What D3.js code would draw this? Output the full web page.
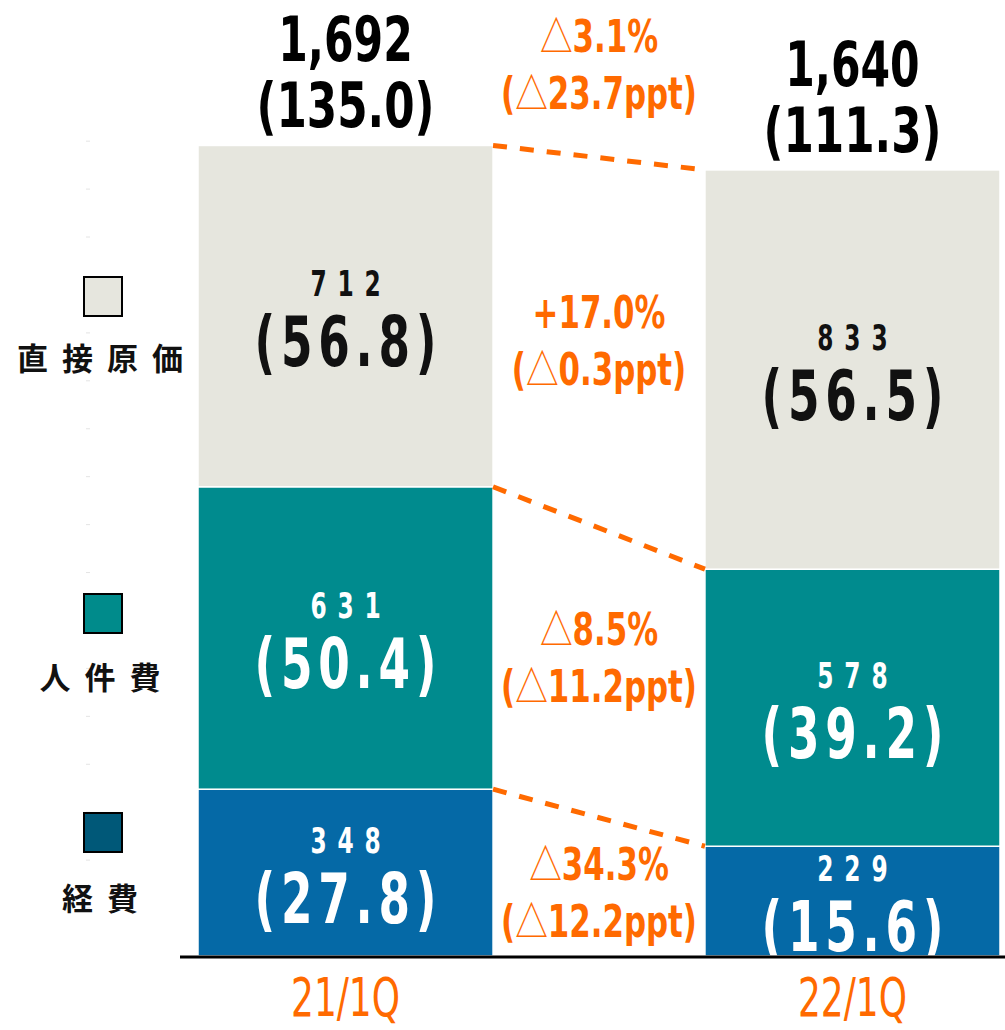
<!DOCTYPE html>
<html><head><meta charset="utf-8">
<script src="https://cdn.jsdelivr.net/npm/d3@7"></script>
<style>
html,body{margin:0;padding:0;background:#fff;}
svg{display:block;}
.num{font-family:"DejaVu Sans Condensed","Liberation Sans",sans-serif;font-weight:bold;}
.tri{font-family:"Noto Sans CJK JP",sans-serif;font-weight:normal;}
.jp{font-family:"Noto Sans CJK JP",sans-serif;font-weight:bold;}
</style></head>
<body>
<script>
const categories = ["21/1Q", "22/1Q"];
const seriesNames = ["経費", "人件費", "直接原価"];
const keihi = [348, 229];
const jinkenhi = [631, 578];
const chokusetsu = [712, 833];
const keihiRatio = ["(27.8)", "(15.6)"];
const jinkenhiRatio = ["(50.4)", "(39.2)"];
const chokusetsuRatio = ["(56.8)", "(56.5)"];
const totals = [1692, 1640];
const totalLabels = ["1,692", "1,640"];
const totalRatio = ["(135.0)", "(111.3)"];
const changePct = ["△34.3%", "△8.5%", "+17.0%", "△3.1%"];
const changePpt = ["(△12.2ppt)", "(△11.2ppt)", "(△0.3ppt)", "(△23.7ppt)"];
const yTicks = d3.range(0, 1800, 100);

const W = 1005, H = 1030;
const colors = ["#0569A6", "#008B8E", "#E6E6DE"];
const legendColors = ["#005878", "#008B8B", "#E6E6DE"];
const orange = "#FF6A00";
// layout nudges for the change labels (pixels)
const changeNudge = [6, -15, -2, 7];

const svg = d3.select("body").append("svg").attr("width", W).attr("height", H);

const x = d3.scaleBand().domain(categories).range([198, 1000]).paddingInner(0.418).paddingOuter(0);
const y = d3.scaleLinear().domain([0, 1692]).range([956, 145]);

function label(px, py, txt, size, sx, ls, fill, weight) {
  const t = svg.append("text").attr("class", "num")
    .attr("transform", `translate(${px},${py}) scale(${sx},1)`)
    .attr("x", ls / 2).attr("y", 0)
    .attr("text-anchor", "middle")
    .attr("font-size", size).attr("letter-spacing", ls)
    .style("font-weight", weight || "bold")
    .attr("fill", fill);
  const parts = String(txt).split(/(△)/).filter(p => p.length);
  parts.forEach(p => {
    const ts = t.append("tspan").text(p);
    if (p === "△") ts.attr("class", "tri").style("font-size", (size * 0.95) + "px").style("font-weight", "normal");
  });
}

const seriesVals = [keihi, jinkenhi, chokusetsu];
const ratios = [keihiRatio, jinkenhiRatio, chokusetsuRatio];
const table = categories.map((c, i) => {
  const o = {cat: c};
  seriesNames.forEach((s, k) => o[s] = seriesVals[k][i]);
  return o;
});
const stacked = d3.stack().keys(seriesNames)(table);

// faint y ticks
svg.append("g").selectAll("line").data(yTicks.filter(d => d > 0)).join("line")
  .attr("x1", 86).attr("x2", 90).attr("y1", d => y(d)).attr("y2", d => y(d))
  .attr("stroke", "#e4e4e4").attr("stroke-width", 1);

// bars
const gS = svg.append("g").selectAll("g").data(stacked).join("g").attr("fill", (d, k) => colors[k]);
gS.selectAll("rect").data(d => d).join("rect")
  .attr("x", d => x(d.data.cat))
  .attr("width", x.bandwidth())
  .attr("y", d => y(d[1]))
  .attr("height", d => y(d[0]) - y(d[1]))
  .attr("stroke", "#fff").attr("stroke-width", 1.5);

// segment labels
stacked.forEach((ser, k) => {
  ser.forEach((d, i) => {
    const cx = x(d.data.cat) + x.bandwidth() / 2;
    const cy = (y(d[0]) + y(d[1])) / 2;
    const fill = k === 2 ? "#111" : "#fff";
    label(cx, cy - 20, seriesVals[k][i], 36, 0.72, 15, fill);
    label(cx, cy + 50, ratios[k][i], 70, 0.72, 8, fill);
  });
});

// totals
categories.forEach((c, i) => {
  const cx = x(c) + x.bandwidth() / 2;
  const top = y(totals[i]);
  label(cx, top - 84, totalLabels[i], 63, 0.75, 0, "#000");
  label(cx, top - 18, totalRatio[i], 63, 0.77, 0, "#000");
});

// dashed connectors
const x1 = x(categories[0]) + x.bandwidth(), x2 = x(categories[1]);
const tops = stacked.map(ser => [ser[0][1], ser[1][1]]);
svg.append("g").selectAll("line").data(tops).join("line")
  .attr("x1", x1).attr("x2", x2)
  .attr("y1", d => y(d[0])).attr("y2", d => y(d[1]))
  .attr("stroke", orange).attr("stroke-width", 5).attr("stroke-dasharray", "14,13");

// change labels
const midX = (x1 + x2) / 2;
const changeY = stacked.map(ser => ((y(ser[0][0]) + y(ser[0][1])) / 2 + (y(ser[1][0]) + y(ser[1][1])) / 2) / 2);
changeY.push(y(totals[0]) - 87);
changePct.forEach((t, k) => {
  const cy = changeY[k] + changeNudge[k];
  label(midX, cy - 13, t, 44, 0.78, 0, orange);
  label(midX, cy + 44, changePpt[k], 44, 0.78, 0, orange);
});

// baseline
svg.append("line").attr("x1", 180).attr("x2", W).attr("y1", y(0) + 1).attr("y2", y(0) + 1)
  .attr("stroke", "#000").attr("stroke-width", 3);

// x axis labels
categories.forEach(c => {
  label(x(c) + x.bandwidth() / 2, 1016, c, 54, 0.74, 0, orange, "normal");
});

// legend
const legY = [813, 594, 277];
const legTextY = [896, 675, 356];
seriesNames.forEach((s, k) => {
  svg.append("rect").attr("x", 84).attr("y", legY[k]).attr("width", 38).attr("height", 39)
    .attr("fill", legendColors[k]).attr("stroke", "#000").attr("stroke-width", 2);
  svg.append("text").attr("class", "jp").attr("x", 100 + 7).attr("y", legTextY[k])
    .attr("text-anchor", "middle").attr("dominant-baseline", "central")
    .attr("font-size", 31).attr("letter-spacing", 14).attr("fill", "#111").text(s);
});
</script>
</body></html>
